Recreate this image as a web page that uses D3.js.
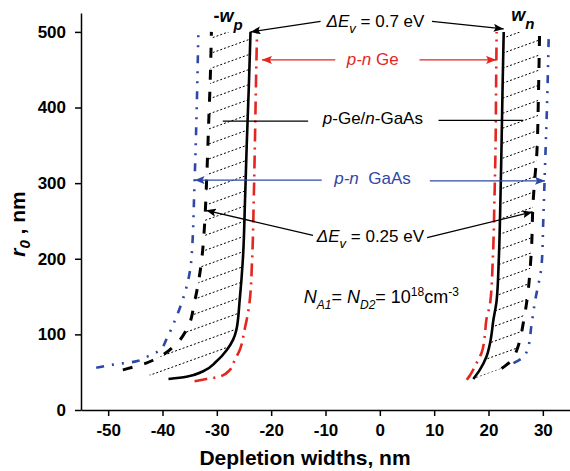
<!DOCTYPE html>
<html>
<head>
<meta charset="utf-8">
<script src="https://cdn.jsdelivr.net/npm/d3@7"></script>
<style>
  html, body { margin: 0; padding: 0; background: #fff; }
  svg { display: block; font-family: Arial, "Liberation Sans", sans-serif; }
</style>
</head>
<body>
<svg id="chart" width="570" height="471"></svg>
<script>
// Depletion widths (nm) versus radius r0 (nm); each point is [width, r0]
const solidLeft = [[-38.9,41],[-35.6,44],[-32.6,51],[-30.1,64],[-28.2,79],[-27.0,93],[-26.4,106],[-25.8,145],[-25.2,200],[-24.8,280],[-24.5,350],[-24.1,430],[-23.8,500]];
const solidRight = [[17.2,41],[18.4,53],[19.6,70],[20.3,89],[20.9,119],[21.5,145],[21.9,200],[22.2,280],[22.4,350],[22.6,430],[22.8,500]];
const dashedLeft = [[-47.3,53],[-46.3,55],[-43.0,62],[-41.7,66],[-37.4,88],[-35.3,110],[-34.1,143],[-32.8,198],[-32.3,240],[-31.9,300],[-31.5,380],[-31.2,440],[-31.0,500]];
const dashedRight = [[22.4,55],[24.3,66],[25.2,79],[25.8,93],[26.4,115],[27.0,141],[27.9,212],[28.2,274],[28.5,304],[28.9,340],[29.2,420],[29.4,500]];
const geLeft = [[-34.1,38],[-31.9,41],[-29.5,44],[-27.6,53],[-26.7,66],[-25.8,79],[-24.9,106],[-24.0,141],[-23.5,200],[-23.2,280],[-23.0,350],[-22.8,430],[-22.6,500]];
const geRight = [[16.0,40],[16.6,46],[17.8,62],[18.7,75],[19.3,97],[19.6,119],[20.3,141],[20.8,200],[21.1,280],[21.3,350],[21.4,430],[21.5,500]];
const gaasLeft = [[-52.2,56],[-49.1,60],[-45.1,64],[-43.0,70],[-40.5,79],[-39.3,93],[-38.1,112],[-36.5,141],[-34.7,198],[-34.1,302],[-33.7,400],[-33.4,500]];
const gaasRight = [[24.6,62],[26.4,70],[27.3,83],[27.9,112],[28.5,141],[29.8,194],[30.1,255],[30.4,321],[30.8,410],[31.1,500]];

const xMajor = [-50,-40,-30,-20,-10,0,10,20,30];
const xMinor = [-55,-45,-35,-25,-15,-5,5,15,25,35];
const yMajor = [0,100,200,300,400,500];
const yMinor = [50,150,250,350,450];

const svg = d3.select("#chart");
const x = d3.scaleLinear().domain([-55, 35]).range([81, 570]);
const y = d3.scaleLinear().domain([0, 525]).range([410, 13]);

const RED = "#e3261f", BLUE = "#2f47a6";

// arrowhead markers
const defs = svg.append("defs");
[["arrK","#000"],["arrR",RED],["arrB",BLUE]].forEach(([id,c]) => {
  defs.append("marker").attr("id", id)
    .attr("viewBox", "0 0 10 8").attr("refX", 10).attr("refY", 4)
    .attr("markerWidth", 10).attr("markerHeight", 8)
    .attr("markerUnits", "userSpaceOnUse").attr("orient", "auto")
    .append("path").attr("d", "M0,0 L10,4 L0,8 L2,4 Z").attr("fill", c);
});

const line = d3.line().x(d => x(d[0])).y(d => y(d[1])).curve(d3.curveMonotoneY);

// hatched regions between the 0.25 eV and 0.7 eV boundaries
function regionPath(a, b) {
  const pa = line(a);
  const pb = line(b.slice().reverse());
  return pa + "L" + pb.slice(1) + "Z";
}
defs.append("clipPath").attr("id", "hatchL").append("path").attr("d", regionPath(dashedLeft, solidLeft));
defs.append("clipPath").attr("id", "hatchR").append("path").attr("d", regionPath(solidRight, dashedRight));

const slope = 0.36, gap = 15;
const hatchOffsets = d3.range(-20, 471 + 489 * slope + 20, gap);
["hatchL","hatchR"].forEach(id => {
  svg.append("g").attr("clip-path", `url(#${id})`)
    .selectAll("line").data(hatchOffsets).join("line")
    .attr("x1", x.range()[0]).attr("y1", d => d)
    .attr("x2", x.range()[1]).attr("y2", d => d - slope * (x.range()[1] - x.range()[0]))
    .attr("stroke", "#000").attr("stroke-width", 1).attr("stroke-dasharray", "2,2");
});

// curves
const curves = [
  [gaasLeft, BLUE, 2.6, "8,8,2,8,2,8"],
  [gaasRight, BLUE, 2.6, "8,8,2,8,2,8"],
  [dashedLeft, "#000", 3, "10,12"],
  [dashedRight, "#000", 3, "10,12"],
  [geLeft, RED, 2.6, "13,6,2,6"],
  [geRight, RED, 2.6, "13,6,2,6"],
  [solidLeft, "#000", 2.6, null],
  [solidRight, "#000", 2.6, null]
];
svg.append("g").selectAll("path").data(curves).join("path")
  .attr("d", d => line(d[0]))
  .attr("fill", "none").attr("stroke", d => d[1]).attr("stroke-width", d => d[2])
  .attr("stroke-dasharray", d => d[3]);

// axes
const xAxis = svg.append("g").attr("transform", `translate(0,${y(0)})`);
xAxis.call(d3.axisBottom(x).tickValues(xMinor).tickSize(3).tickSizeOuter(0).tickFormat(""));
xAxis.call(d3.axisBottom(x).tickValues(xMajor).tickSize(6).tickSizeOuter(0).tickPadding(8).tickFormat(d => String(d)));
const yAxis = svg.append("g").attr("transform", `translate(${x(-55)},0)`);
yAxis.call(d3.axisLeft(y).tickValues(yMinor).tickSize(3).tickSizeOuter(0).tickFormat(""));
yAxis.call(d3.axisLeft(y).tickValues(yMajor).tickSize(6).tickSizeOuter(0).tickPadding(9).tickFormat(d => String(d)));
svg.selectAll(".domain, .tick line").attr("stroke", "#000").attr("stroke-width", 1.5);
svg.selectAll(".tick text").attr("font-family", "Arial, 'Liberation Sans', sans-serif")
  .attr("font-size", 17).attr("font-weight", "bold").attr("fill", "#000");

// axis titles
svg.append("text").attr("x", 305).attr("y", 465).attr("text-anchor", "middle")
  .attr("font-size", 21).attr("font-weight", "bold").text("Depletion widths, nm");
const yt = svg.append("text").attr("transform", "translate(25,224) rotate(-90)")
  .attr("text-anchor", "middle").attr("font-size", 21).attr("font-weight", "bold");
yt.append("tspan").attr("font-style", "italic").text("r");
yt.append("tspan").attr("font-style", "italic").attr("font-size", 15).attr("dy", 5).text("0");
yt.append("tspan").attr("dy", -5).text(" , nm");

// annotations (positions in data units)
const ann = svg.append("g").attr("font-size", 17);
function arrow(p0, p1, color, marker) {
  ann.append("line").attr("x1", x(p0[0])).attr("y1", y(p0[1]))
    .attr("x2", x(p1[0])).attr("y2", y(p1[1]))
    .attr("stroke", color).attr("stroke-width", 1.3)
    .attr("marker-end", marker ? `url(#${marker})` : null);
}
function deltaLabel(pos, value) {
  const t = ann.append("text").attr("x", x(pos[0])).attr("y", y(pos[1]));
  t.append("tspan").attr("font-style", "italic").text("\u0394E");
  t.append("tspan").attr("font-style", "italic").attr("font-size", 13).attr("dy", 6).text("v");
  t.append("tspan").attr("dy", -6).text(` = ${value} eV`);
}

// ΔEv = 0.7 eV
const topL = solidLeft[solidLeft.length - 1], topR = solidRight[solidRight.length - 1];
deltaLabel([-9.8, 506], 0.7);
arrow([-10.9, 514], topL, "#000", "arrK");
arrow([9.6, 514], [topR[0], topR[1] + 4], "#000", "arrK");

// -w_p and w_n
const wp = ann.append("text").attr("x", x(-30.6)).attr("y", y(513)).attr("font-size", 18).attr("font-weight", "bold");
wp.append("tspan").text("-");
wp.append("tspan").attr("font-style", "italic").text("w");
wp.append("tspan").attr("font-style", "italic").attr("font-size", 15).attr("dy", 8).text("p");
const wn = ann.append("text").attr("x", x(24.2)).attr("y", y(514)).attr("font-size", 18).attr("font-weight", "bold");
wn.append("tspan").attr("font-style", "italic").text("w");
wn.append("tspan").attr("font-style", "italic").attr("font-size", 15).attr("dy", 8).text("n");

// p-n Ge
const ge = ann.append("text").attr("x", x(-6.1)).attr("y", y(456)).attr("fill", RED);
ge.append("tspan").attr("font-style", "italic").text("p-n");
ge.append("tspan").text(" Ge");
arrow([-8.2, 463], [-21.7, 463], RED, "arrR");
arrow([7.3, 463], [21.4, 463], RED, "arrR");

// p-Ge/n-GaAs
const het = ann.append("text").attr("x", x(-10.5)).attr("y", y(378));
het.append("tspan").attr("font-style", "italic").text("p");
het.append("tspan").text("-Ge/");
het.append("tspan").attr("font-style", "italic").text("n");
het.append("tspan").text("-GaAs");
arrow([-28.9, 382], [-13.2, 382], "#000", null);
arrow([10.8, 383], [26.4, 383], "#000", null);

// p-n GaAs
const ga = ann.append("text").attr("x", x(-8.4)).attr("y", y(299)).attr("fill", BLUE)
  .attr("xml:space", "preserve").style("white-space", "pre");
ga.append("tspan").attr("font-style", "italic").text("p-n");
ga.append("tspan").text("  GaAs");
arrow([-10.7, 304], [-34.1, 304], BLUE, "arrB");
arrow([9.2, 303], [30.4, 303], BLUE, "arrB");

// ΔEv = 0.25 eV
deltaLabel([-11.6, 222], 0.25);
arrow([-12.3, 231], [-32.0, 264], "#000", "arrK");
arrow([8.7, 228], [28.1, 262], "#000", "arrK");

// doping level
const nd = ann.append("text").attr("x", x(-14)).attr("y", y(142)).attr("font-size", 18);
nd.append("tspan").attr("font-style", "italic").text("N");
nd.append("tspan").attr("font-style", "italic").attr("font-size", 12).attr("dy", 6).text("A1");
nd.append("tspan").attr("dy", -6).text("= ");
nd.append("tspan").attr("font-style", "italic").text("N");
nd.append("tspan").attr("font-style", "italic").attr("font-size", 12).attr("dy", 6).text("D2");
nd.append("tspan").attr("dy", -6).text("= 10");
nd.append("tspan").attr("font-size", 12).attr("dy", -7).text("18");
nd.append("tspan").attr("dy", 7).text("cm");
nd.append("tspan").attr("font-size", 12).attr("dy", -7).text("-3");
</script>
</body>
</html>
